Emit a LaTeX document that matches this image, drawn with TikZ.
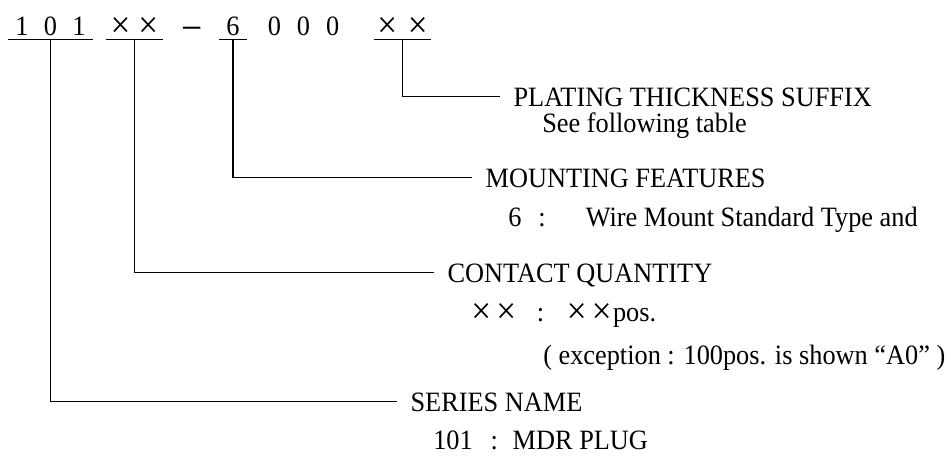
\documentclass[tikz,border=0pt]{standalone}
\usepackage{fontspec}
\setmainfont{Liberation Serif}[FakeStretch=0.94]
\usepackage{tikz}
\usetikzlibrary{positioning,calc}

\newcommand{\bigcross}{\raisebox{-2pt}{\fontsize{28pt}{28pt}\selectfont ×}}
\newcommand{\bigminus}{\raisebox{-5pt}{\fontsize{30pt}{30pt}\selectfont −}}

\begin{document}
\begin{tikzpicture}[
    x=0.75pt, y=-0.75pt,
    every node/.style={font=\fontsize{21pt}{25pt}\selectfont},
    code/.style={anchor=base, inner xsep=0pt, inner ysep=3.4pt, text depth=0pt},
    part/.style={anchor=base west, inner xsep=10pt, inner ysep=0pt, text depth=0pt},
    note/.style={anchor=base west, inner sep=0pt},
    link/.style={line width=1pt}
]
    \useasboundingbox (0,0) rectangle (951,455);

    \node[code, minimum width=63.75pt] (series) at (50.5,35) {1\hspace{11.5pt}0\hspace{11.5pt}1};
    \node[code, minimum width=42.75pt] (qty) at (134.5,35) {\bigcross\hspace{6pt}\bigcross};
    \node[code] (dash) at (192,35) {\bigminus};
    \node[code, minimum width=21pt] (mount) at (233,35) {6};
    \node[code] (zeros) at (303.5,35) {0\hspace{12pt}0\hspace{12pt}0};
    \node[code, minimum width=42.75pt] (plating) at (402.5,35) {\bigcross\hspace{8pt}\bigcross};

    \node[part] (platingname) at (500,106) {PLATING THICKNESS SUFFIX};
    \node[note] (platingnote) at (542,132) {See following table};
    \node[part] (mountname) at (472,187) {MOUNTING FEATURES};
    \node[note] (mountnote) at (508,226) {6\hspace{12.8pt}:\hspace{30pt}Wire Mount Standard Type and};
    \node[part] (qtyname) at (434,282) {CONTACT QUANTITY};
    \node[note] (qtynote) at (471,321) {\bigcross\hspace{4pt}\bigcross\hspace{15.5pt}:\hspace{17pt}\bigcross\hspace{4pt}\bigcross\hspace{1pt}pos.};
    \node[note] (qtyexcept) at (543,364) {( exception : 100pos. is shown “A0” )};
    \node[part] (seriesname) at (397,411) {SERIES NAME};
    \node[note] (seriesnote) at (433,449) {101\hspace{13.5pt}:\hspace{11pt}MDR PLUG};

    \foreach \g in {series, qty, mount, plating}
        \draw[link] (\g.south west) -- (\g.south east);

    \draw[link] (plating.south) |- (platingname.west);
    \draw[link] (mount.south) |- (mountname.west);
    \draw[link] (qty.south) |- (qtyname.west);
    \draw[link] (series.south) |- (seriesname.west);
\end{tikzpicture}
\end{document}
